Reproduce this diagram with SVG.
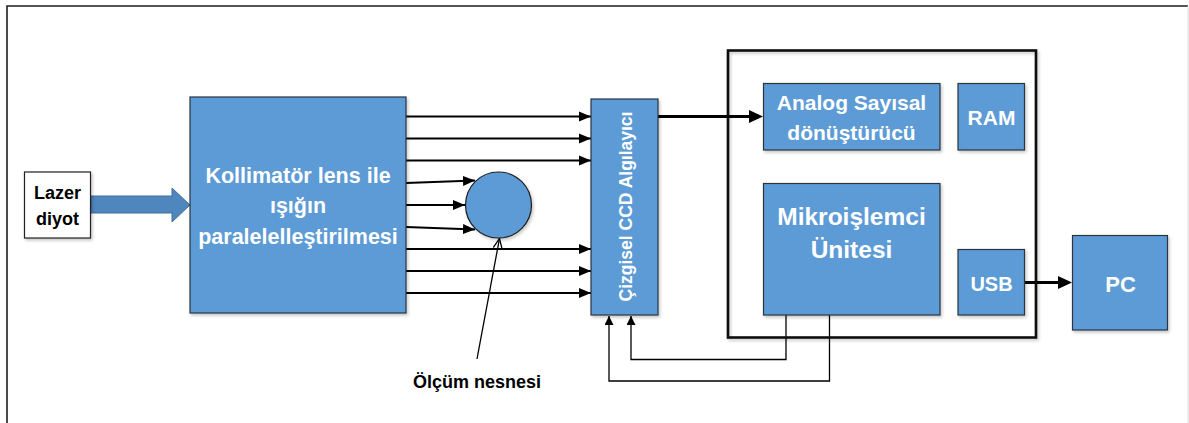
<svg xmlns="http://www.w3.org/2000/svg" width="1189" height="423" viewBox="0 0 1189 423">
  <style>
    .box { fill: #5B9BD5; stroke: #2B3440; stroke-width: 1.2; filter: url(#shadow); }
    .wbox { fill: #FFFFFF; stroke: #222222; stroke-width: 1.2; filter: url(#shadow); }
    .lbl { font-family: "Liberation Sans", Arial, sans-serif; font-weight: bold; fill: #FFFFFF; text-anchor: middle; }
    .dlbl { font-family: "Liberation Sans", Arial, sans-serif; font-weight: bold; fill: #000000; text-anchor: middle; }
    .beam { stroke: #000000; stroke-width: 2.2; fill: none; marker-end: url(#headBeam); }
    .thick { stroke: #000000; stroke-width: 3; fill: none; }
    .thin { stroke: #000000; stroke-width: 1.3; fill: none; }
  </style>
  <defs>
    <filter id="shadow" x="-10%" y="-10%" width="130%" height="130%">
      <feDropShadow dx="1.5" dy="2" stdDeviation="1.5" flood-color="#000000" flood-opacity="0.22"/>
    </filter>
    <marker id="headBeam" markerUnits="userSpaceOnUse" markerWidth="13" markerHeight="12" refX="12" refY="5.5" orient="auto">
      <path d="M0,0.5 L12,5.5 L0,10.5 z" fill="#000000"/>
    </marker>
    <marker id="headSmall" markerUnits="userSpaceOnUse" markerWidth="10" markerHeight="10" refX="9" refY="4.5" orient="auto">
      <path d="M0,0 L9,4.5 L0,9 z" fill="#000000"/>
    </marker>
    <marker id="headOpen" markerUnits="userSpaceOnUse" markerWidth="12" markerHeight="12" refX="10" refY="5" orient="auto">
      <path d="M0,0.5 L10,5 L0,9.5" fill="none" stroke="#000000" stroke-width="1.3"/>
    </marker>
  </defs>

  <!-- page frame -->
  <path d="M7,440 L7,6 L1188,6" fill="none" stroke="#1E1E1E" stroke-width="1.6"/>
  <line x1="1188" y1="6" x2="1188" y2="423" stroke="#D8D8D8" stroke-width="1"/>

  <!-- connectors -->
  <g id="connectors">
    <!-- laser beam into collimator -->
    <polygon points="91,196 172,196 172,188 190,205 172,222 172,213 91,213" fill="#4E86BD" stroke="#41719C" stroke-width="1"/>

    <!-- parallel beams to the CCD -->
    <line class="beam" x1="406" y1="116.5" x2="591" y2="116.5"/>
    <line class="beam" x1="406" y1="138.5" x2="591" y2="138.5"/>
    <line class="beam" x1="406" y1="160.5" x2="591" y2="160.5"/>
    <line class="beam" x1="406" y1="249" x2="591" y2="249"/>
    <line class="beam" x1="406" y1="271" x2="591" y2="271"/>
    <line class="beam" x1="406" y1="293" x2="591" y2="293"/>

    <!-- beams blocked by the object -->
    <line class="beam" x1="406" y1="183" x2="475" y2="180.5"/>
    <line class="beam" x1="406" y1="205" x2="465" y2="205"/>
    <line class="beam" x1="406" y1="227" x2="475" y2="229.5"/>

    <!-- label pointer -->
    <line class="thin" x1="477" y1="359" x2="499.5" y2="238.5" marker-end="url(#headOpen)"/>

    <!-- CCD to ADC -->
    <line class="thick" x1="658" y1="116.5" x2="750" y2="116.5"/>
    <polygon points="749,110 763,116.5 749,123" fill="#000000"/>

    <!-- USB to PC -->
    <line class="thick" x1="1024" y1="282.5" x2="1059" y2="282.5"/>
    <polygon points="1058,276 1072,282.5 1058,289" fill="#000000"/>

    <!-- control lines from the microcontroller to the CCD -->
    <polyline class="thin" points="786,315 786,359.5 631,359.5 631,316" marker-end="url(#headSmall)"/>
    <polyline class="thin" points="829.5,315 829.5,381 609,381 609,316" marker-end="url(#headSmall)"/>
  </g>

  <!-- laser diode -->
  <g id="lazer">
    <rect class="wbox" x="24.5" y="172" width="66" height="66"/>
    <text class="dlbl" x="57.5" y="199" font-size="18">Lazer</text>
    <text class="dlbl" x="57.5" y="225" font-size="18">diyot</text>
  </g>

  <!-- collimator -->
  <g id="kollimator">
    <rect class="box" x="190" y="97" width="216" height="216"/>
    <text class="lbl" x="298" y="183" font-size="21.5">Kollimatör lens ile</text>
    <text class="lbl" x="298" y="213" font-size="21.5">ışığın</text>
    <text class="lbl" x="298" y="244" font-size="21.5">paralelelleştirilmesi</text>
  </g>

  <!-- measured object -->
  <g id="nesne">
    <circle cx="498.5" cy="205" r="33" fill="#5B9BD5" stroke="#1E1E1E" stroke-width="1.2" filter="url(#shadow)"/>
  </g>
  <g id="nesne-label">
    <text class="dlbl" x="477" y="388" font-size="18">Ölçüm nesnesi</text>
  </g>

  <!-- linear CCD -->
  <g id="ccd">
    <rect class="box" x="591" y="99" width="67" height="216"/>
    <text class="lbl" transform="translate(632,206.5) rotate(-90)" x="0" y="0" font-size="17.5">Çizgisel CCD Algılayıcı</text>
  </g>

  <!-- electronics enclosure -->
  <g id="kart">
    <rect x="728" y="50.5" width="308" height="287" fill="none" stroke="#111111" stroke-width="2.6" filter="url(#shadow)"/>
  </g>

  <g id="adc">
    <rect class="box" x="763.5" y="83.5" width="176.5" height="66.5"/>
    <text class="lbl" x="851.5" y="110" font-size="21">Analog Sayısal</text>
    <text class="lbl" x="851.5" y="139.5" font-size="21">dönüştürücü</text>
  </g>

  <g id="ram">
    <rect class="box" x="958" y="83.5" width="66.5" height="66.5"/>
    <text class="lbl" x="991.5" y="125" font-size="21">RAM</text>
  </g>

  <g id="mikroislemci">
    <rect class="box" x="763.5" y="183.5" width="176.5" height="131.5"/>
    <text class="lbl" x="851.5" y="224.5" font-size="24.5">Mikroişlemci</text>
    <text class="lbl" x="851.5" y="257.5" font-size="24.5">Ünitesi</text>
  </g>

  <g id="usb">
    <rect class="box" x="958" y="249.5" width="66.5" height="65.5"/>
    <text class="lbl" x="991.5" y="290.5" font-size="20">USB</text>
  </g>

  <g id="pc">
    <rect class="box" x="1072.5" y="235.5" width="95" height="94.5"/>
    <text class="lbl" x="1120.5" y="291.5" font-size="22">PC</text>
  </g>
</svg>
